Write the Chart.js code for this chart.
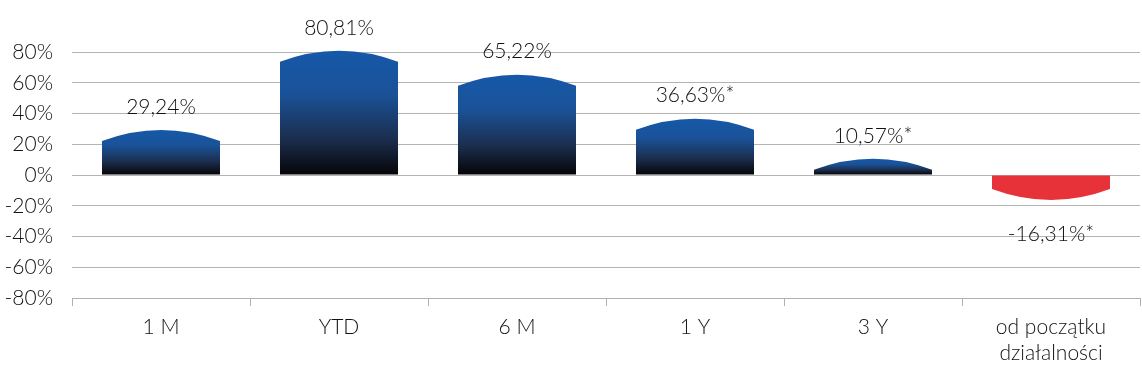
<!DOCTYPE html>
<html>
<head>
<meta charset="utf-8">
<script src="https://cdn.jsdelivr.net/npm/chart.js@4.4.1/dist/chart.umd.min.js"></script>
<style>
  html, body { margin: 0; padding: 0; background: #fff; }
  #wrap { width: 1142px; height: 372px; }
</style>
</head>
<body>
<div id="wrap"><canvas id="chart" width="1142" height="372"></canvas></div>
<script>
// ==========================
// DATA
// ==========================

const categories = ["1 M", "YTD", "6 M", "1 Y", "3 Y", ["od początku", "działalności"]];
const returns = [29.24, 80.81, 65.22, 36.63, 10.57, -16.31];
const starred = [false, false, false, true, true, true];
const yTicks = [-80, -60, -40, -20, 0, 20, 40, 60, 80];

const FONT = "Lato, 'Open Sans', sans-serif";

function formatValue(v, star){
  return v.toFixed(2).replace(".", ",") + "%" + (star ? "*" : "");
}

// ==========================
// ARCHED BARS PLUGIN
// ==========================

const archBars = {
  id: "archBars",
  afterDatasetsDraw(chart){
    const ctx = chart.ctx;
    const meta = chart.getDatasetMeta(0);
    const arch = 11;

    meta.data.forEach(function(bar, i){
      const v = returns[i];
      const left = bar.x - bar.width / 2;
      const right = bar.x + bar.width / 2;
      const top = bar.y;
      const base = bar.base;

      ctx.save();
      ctx.beginPath();
      if(v >= 0){
        ctx.moveTo(left, base);
        ctx.lineTo(left, top + arch);
        ctx.quadraticCurveTo(bar.x, top - arch, right, top + arch);
        ctx.lineTo(right, base);
        const g = ctx.createLinearGradient(0, top, 0, base);
        g.addColorStop(0, "#1658a8");
        g.addColorStop(0.35, "#1a5298");
        g.addColorStop(0.72, "#1b2d4c");
        g.addColorStop(1, "#050508");
        ctx.fillStyle = g;
      } else {
        ctx.moveTo(left, base);
        ctx.lineTo(left, top - arch);
        ctx.quadraticCurveTo(bar.x, top + arch, right, top - arch);
        ctx.lineTo(right, base);
        ctx.fillStyle = "#e8323a";
      }
      ctx.closePath();
      ctx.fill();

      // value label
      ctx.fillStyle = "#111";
      ctx.font = "300 21px " + FONT;
      ctx.textAlign = "center";
      ctx.textBaseline = "middle";
      const ly = v >= 0 ? top - 23 : top + 34;
      ctx.fillText(formatValue(v, starred[i]), bar.x, ly);
      ctx.restore();
    });
  }
};

// ==========================
// CHART
// ==========================

const chart = new Chart(document.getElementById("chart"), {
  type: "bar",
  data: {
    labels: categories,
    datasets: [{
      data: returns,
      backgroundColor: "rgba(0,0,0,0)",
      borderWidth: 0,
      categoryPercentage: 0.663,
      barPercentage: 1
    }]
  },
  options: {
    responsive: false,
    animation: false,
    layout: { padding: { top: 52, right: 2, left: 0, bottom: 0 } },
    plugins: {
      legend: { display: false },
      tooltip: { enabled: false }
    },
    scales: {
      x: {
        grid: {
          offset: true,
          drawOnChartArea: false,
          drawTicks: true,
          tickLength: 8,
          color: "#b0b0b0"
        },
        border: { display: true, color: "#b0b0b0" },
        ticks: {
          color: "#111",
          font: { family: FONT, size: 21, weight: 300 },
          padding: 9,
          maxRotation: 0
        },
        afterFit(scale){ scale.height = 74; }
      },
      y: {
        min: -80,
        max: 80,
        afterBuildTicks(scale){
          scale.ticks = yTicks.map(function(v){ return { value: v }; });
        },
        grid: {
          color: "#b4b4b4",
          drawTicks: false
        },
        border: { display: false },
        ticks: {
          color: "#111",
          font: { family: FONT, size: 21, weight: 300 },
          padding: 19,
          callback: function(v){ return v + "%"; }
        },
        afterFit(scale){ scale.width = 72; }
      }
    }
  },
  plugins: [archBars]
});
</script>
</body>
</html>
